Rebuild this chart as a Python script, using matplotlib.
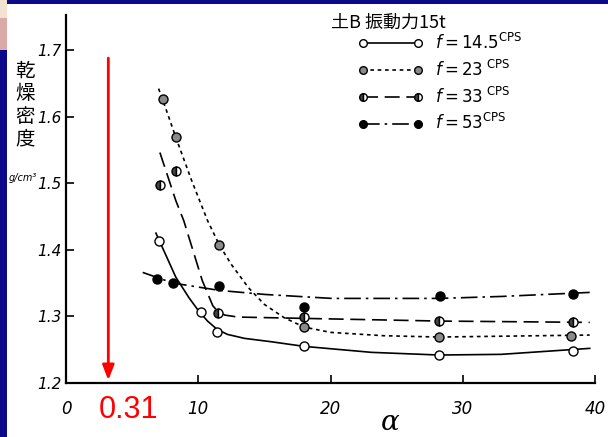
import matplotlib
matplotlib.use("Agg")
import matplotlib.pyplot as plt
from matplotlib.lines import Line2D
from matplotlib.patches import Rectangle

# measured points (alpha, dry density)
alpha_145 = [7.0, 10.2, 11.4, 18.0, 28.2, 38.3]
dens_145 = [1.413, 1.306, 1.276, 1.255, 1.242, 1.248]
alpha_23 = [7.3, 8.3, 11.6, 18.0, 28.2, 38.2]
dens_23 = [1.626, 1.569, 1.407, 1.284, 1.269, 1.270]
alpha_33 = [7.1, 8.3, 11.5, 18.0, 28.2, 38.3]
dens_33 = [1.498, 1.518, 1.305, 1.299, 1.293, 1.291]
alpha_53 = [6.9, 8.1, 11.6, 18.0, 28.3, 38.3]
dens_53 = [1.356, 1.350, 1.345, 1.314, 1.330, 1.333]

# hand-drawn fitted curves
curve_145_x = [6.8, 8.3, 9.3, 10.0, 10.7, 11.4, 12.2, 13.5, 15.5, 18.0, 23.1, 28.2, 32.9, 39.6]
curve_145_y = [1.425, 1.359, 1.328, 1.309, 1.293, 1.281, 1.273, 1.267, 1.262, 1.255, 1.246,
               1.242, 1.243, 1.252]
curve_23_x = [7.0, 7.3, 8.3, 9.5, 10.7, 11.6, 12.5, 13.8, 15.0, 16.5, 18.0, 20.0, 24.0, 28.2, 39.6]
curve_23_y = [1.642, 1.626, 1.569, 1.504, 1.444, 1.407, 1.378, 1.343, 1.318, 1.298, 1.284,
              1.276, 1.271, 1.269, 1.272]
curve_33_x = [7.1, 8.3, 8.9, 10.3, 11.1, 11.5, 12.0, 13.0, 18.0, 28.2, 39.6]
curve_33_y = [1.546, 1.474, 1.444, 1.354, 1.316, 1.307, 1.302, 1.299, 1.297, 1.293, 1.291]
curve_53_x = [5.8, 8.1, 11.6, 15.0, 20.1, 28.3, 33.0, 39.6]
curve_53_y = [1.366, 1.350, 1.339, 1.333, 1.327, 1.327, 1.330, 1.336]

y_ticks = [1.2, 1.3, 1.4, 1.5, 1.6, 1.7]
y_labels = ["1.2", "1.3", "1.4", "1.5", "1.6", "1.7"]
x_ticks = [0, 10, 20, 30, 40]
x_labels = ["0", "10", "20", "30", "40"]
legend_labels = [r"$f = 14.5^{\rm CPS}$", r"$f = 23^{\rm \ CPS}$",
                 r"$f = 33^{\rm \ CPS}$", r"$f = 53^{\rm CPS}$"]
legend_title = "土B 振動力15t"
marked_alpha = 3.2

plt.rcParams['font.family'] = ['Noto Sans CJK JP', 'DejaVu Sans']

fig = plt.figure(figsize=(6.08, 4.37), dpi=100, facecolor="#0a0a8a")
# white page of the slide
fig.patches.append(Rectangle((7 / 608, 0), 1, 1 - 4 / 437, transform=fig.transFigure,
                             facecolor="white", edgecolor="none", zorder=-10))
fig.patches.append(Rectangle((0, 1 - 18 / 437), 7 / 608, 18 / 437, transform=fig.transFigure,
                             facecolor="#f3e2d2", edgecolor="none", zorder=-10))
fig.patches.append(Rectangle((0, 1 - 50 / 437), 7 / 608, 32 / 437, transform=fig.transFigure,
                             facecolor="#d9aaa8", edgecolor="none", zorder=-10))

ax = fig.add_axes([66 / 608, 54 / 437, 529 / 608, 368 / 437])
ax.patch.set_alpha(0)

styles = [
    dict(ls="-", mfc="white", fs="full"),
    dict(ls=(0, (2.2, 2.2)), mfc="#8a8a8a", fs="full"),
    dict(ls=(0, (9, 4)), mfc="#444444", fs="left"),
    dict(ls=(0, (10, 3, 1.5, 3)), mfc="black", fs="full"),
]
curves = [(curve_145_x, curve_145_y), (curve_23_x, curve_23_y),
          (curve_33_x, curve_33_y), (curve_53_x, curve_53_y)]
points = [(alpha_145, dens_145), (alpha_23, dens_23),
          (alpha_33, dens_33), (alpha_53, dens_53)]

handles = []
for (cx, cy), (px, py), st in zip(curves, points, styles):
    ax.plot(cx, cy, color="black", lw=1.2, ls=st["ls"])
    ax.plot(px, py, ls="none", marker="o", ms=6.5, mec="black", mew=1.0,
            mfc=st["mfc"], fillstyle=st["fs"], markerfacecoloralt="white")
    handles.append(Line2D([0], [0], color="black", lw=1.2, ls=st["ls"], marker="o",
                          ms=5.5, mec="black", mfc=st["mfc"], fillstyle=st["fs"],
                          markerfacecoloralt="white"))

ax.set_xlim(0, 40)
ax.set_ylim(1.2, 1.7525)
for s in ["top", "right"]:
    ax.spines[s].set_visible(False)
ax.spines["left"].set_linewidth(1.6)
ax.spines["bottom"].set_linewidth(1.6)
ax.set_yticks(y_ticks)
ax.set_yticklabels(y_labels, fontstyle="italic", fontsize=11, family="DejaVu Sans")
ax.set_xticks(x_ticks)
ax.set_xticklabels(x_labels, fontstyle="italic", fontsize=12, family="DejaVu Sans")
ax.tick_params(axis="both", direction="in", length=6, width=1.2)
ax.tick_params(axis="y", pad=3)
ax.tick_params(axis="x", pad=12)

fig.text(390 / 608, 1 - 423 / 437, "α", fontsize=20, fontstyle="italic",
         family="DejaVu Serif", ha="center", va="center")

fig.text(25 / 608, 1 - 105 / 437, "乾\n燥\n密\n度", ha="center", va="center",
         fontsize=14, linespacing=1.1)
fig.text(23 / 608, 1 - 178 / 437, "g/cm³", ha="center", va="center", fontsize=7,
         fontstyle="italic", family="DejaVu Sans")

# red marker arrow
ax.annotate("", xy=(marked_alpha, 1.2), xytext=(marked_alpha, 1.692),
            arrowprops=dict(arrowstyle="-|>,head_length=0.9,head_width=0.35",
                            color="red", lw=2))
fig.text(128 / 608, 1 - 410 / 437, "0.31", color="red", ha="center", va="center",
         fontsize=22, family="Liberation Sans")

fig.text(331 / 608, 1 - 23 / 437, legend_title, ha="left", va="center", fontsize=13)
leg = fig.legend(handles, legend_labels, loc="upper left",
                 bbox_to_anchor=(358 / 608, 1 - 33 / 437), frameon=False,
                 fontsize=12, handlelength=3.9, numpoints=2, borderpad=0,
                 borderaxespad=0, handletextpad=0.7, labelspacing=0.4)

fig.savefig("out.png", dpi=100, facecolor=fig.get_facecolor())
